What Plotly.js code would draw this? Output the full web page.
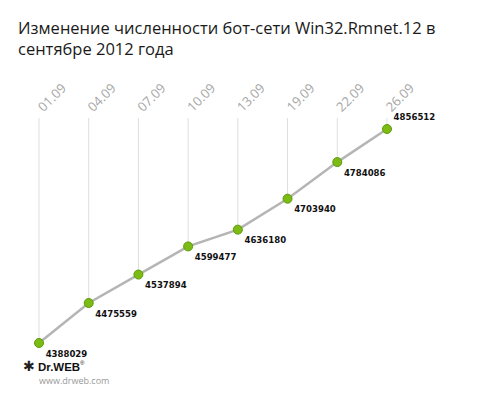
<!DOCTYPE html>
<html>
<head>
<meta charset="utf-8">
<script src="https://cdn.plot.ly/plotly-3.0.1.min.js"></script>
<style>html,body{margin:0;padding:0;background:#fff;}#chart{width:480px;height:399px;}</style>
</head>
<body>
<div id="chart"></div>
<script>
const dates = ["01.09","04.09","07.09","10.09","13.09","19.09","22.09","26.09"];
const bots = [4388029,4475559,4537894,4599477,4636180,4703940,4784086,4856512];
const labelPositions = ["bottom right","bottom right","bottom right","bottom right","bottom right","bottom right","bottom right","top right"];

const yTop = 4880600, yBottom = 4300470;

const stemX = [], stemY = [];
dates.forEach((d, i) => { stemX.push(d, d, null); stemY.push(bots[i], yTop, null); });

const traces = [
  {x: stemX, y: stemY, mode: 'lines', line: {color: '#dedede', width: 1}, hoverinfo: 'skip', showlegend: false},
  {x: dates, y: bots, mode: 'lines+markers+text', text: bots.map(String), textposition: labelPositions,
   textfont: {family: 'DejaVu Sans Condensed', size: 9.5, color: '#111', weight: 'bold'},
   line: {color: '#b5b5b5', width: 2.5},
   marker: {color: '#7cbb14', size: 9, line: {color: '#5e9a0a', width: 1}},
   showlegend: false, cliponaxis: false}
];

const pH = 399 - 118 - 16;
const py = (pix) => (399 - 16 - pix) / pH;

const layout = {
  width: 480, height: 399,
  margin: {l: 0, r: 0, t: 118, b: 16},
  paper_bgcolor: '#fff', plot_bgcolor: '#fff',
  title: {text: 'Изменение численности бот-сети Win32.Rmnet.12 в<br>сентябре 2012 года',
          font: {family: 'Open Sans', size: 16.5, color: '#1a1a1a'},
          xref: 'container', x: 18/480, xanchor: 'left', yref: 'container', y: 1 - 34/399, yanchor: 'top'},
  xaxis: {type: 'category', side: 'top', range: [-0.7845, 8.871], showgrid: false, zeroline: false,
          showline: false, ticks: '', tickangle: -45, tickfont: {family: 'Open Sans', size: 13, color: '#a6a6a6'}},
  yaxis: {range: [yBottom, yTop], visible: false, showgrid: false, zeroline: false},
  annotations: [
    {xref: 'paper', yref: 'paper', x: 21/480, y: py(366), text: '✱', showarrow: false,
     font: {family: 'DejaVu Sans', size: 14, color: '#222'}, xanchor: 'left', yanchor: 'middle'},
    {xref: 'paper', yref: 'paper', x: 36/480, y: py(367), text: '<b>Dr.WEB</b>', showarrow: false,
     font: {family: 'Liberation Sans', size: 11.5, color: '#111'}, xanchor: 'left', yanchor: 'middle'},
    {xref: 'paper', yref: 'paper', x: 78/480, y: py(363), text: '®', showarrow: false,
     font: {family: 'Liberation Sans', size: 6, color: '#111'}, xanchor: 'left', yanchor: 'middle'},
    {xref: 'paper', yref: 'paper', x: 37/480, y: py(380), text: 'www.drweb.com', showarrow: false,
     font: {family: 'Open Sans', size: 9, color: '#999'}, xanchor: 'left', yanchor: 'middle'}
  ]
};

Plotly.newPlot('chart', traces, layout, {displayModeBar: false, staticPlot: true});
</script>
</body>
</html>
